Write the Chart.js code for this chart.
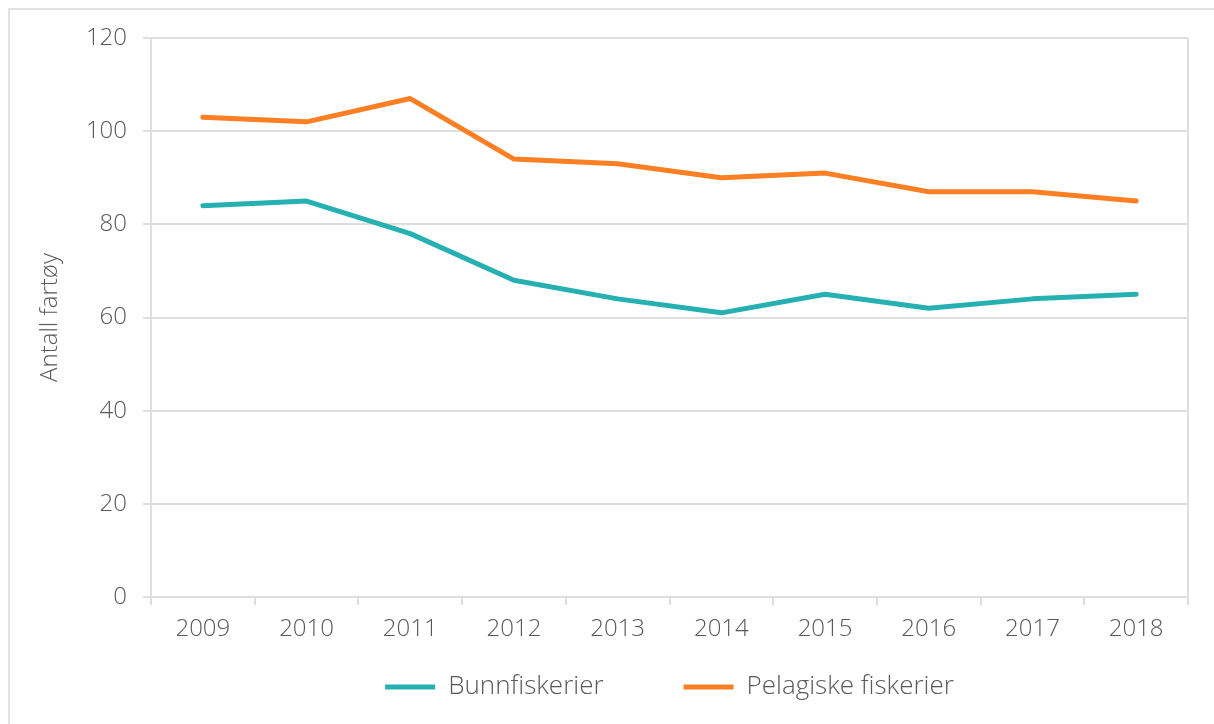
<!DOCTYPE html>
<html>
<head>
<meta charset="utf-8">
<script src="https://cdn.jsdelivr.net/npm/chart.js@4.4.1/dist/chart.umd.min.js"></script>
<style>
  html, body { margin: 0; padding: 0; background: #fff; overflow: hidden; }
  .frame {
    position: absolute; left: 8px; top: 8px; width: 1300px; height: 800px;
    border: 2px solid #e3e3e3; box-sizing: border-box;
  }
  .wrap { position: absolute; left: 0; top: 0; width: 1214px; height: 724px; }
</style>
</head>
<body>
<div class="frame"></div>
<div class="wrap"><canvas id="chart"></canvas></div>
<script>
// Data
const years = ['2009', '2010', '2011', '2012', '2013', '2014', '2015', '2016', '2017', '2018'];
const bunnfiskerier = [84, 85, 78, 68, 64, 61, 65, 62, 64, 65];
const pelagiske = [103, 102, 107, 94, 93, 90, 91, 87, 87, 85];
const yTicks = [0, 20, 40, 60, 80, 100, 120];

const textColor = '#595959';
const gridColor = '#dedede';
const fontFamily = '"Open Sans", "Noto Sans", sans-serif';

const LEGEND_H = 70;     // height the legend takes in the layout
const LEGEND_VPAD = 22;  // space above the legend items
const PAD_LEFT = 36;

// Chart.js uses one padding value for both the gap between legend items and
// the space around them; keep the wide gap without the tall box.
const legendSpacing = {
  id: 'legendSpacing',
  beforeUpdate(chart) {
    const lg = chart.legend;
    if (!lg || lg.__patched) return;
    lg.__patched = true;
    const fit = lg.fit;
    lg.fit = function () {
      fit.call(this);
      this.height = LEGEND_H;
    };
    const draw = lg.draw;
    lg.draw = function () {
      const saved = [this.top, this.left, this.right];
      this.top = saved[0] - this.options.labels.padding + LEGEND_VPAD;
      this.left = chart.chartArea.left;
      this.right = chart.chartArea.right;
      draw.apply(this, arguments);
      [this.top, this.left, this.right] = saved;
    };
  }
};

new Chart(document.getElementById('chart').getContext('2d'), {
  type: 'line',
  data: {
    labels: years,
    datasets: [
      {
        label: 'Bunnfiskerier', data: bunnfiskerier,
        borderColor: '#26b0b2', backgroundColor: '#26b0b2',
        borderWidth: 5, borderCapStyle: 'round', borderJoinStyle: 'round',
        pointRadius: 0, pointStyle: 'line', tension: 0
      },
      {
        label: 'Pelagiske fiskerier', data: pelagiske,
        borderColor: '#fc7f24', backgroundColor: '#fc7f24',
        borderWidth: 5, borderCapStyle: 'round', borderJoinStyle: 'round',
        pointRadius: 0, pointStyle: 'line', tension: 0
      }
    ]
  },
  plugins: [legendSpacing],
  options: {
    responsive: true,
    maintainAspectRatio: false,
    animation: false,
    layout: { padding: { left: PAD_LEFT, right: 26, top: 38, bottom: 2 } },
    plugins: {
      tooltip: { enabled: false },
      legend: {
        position: 'bottom',
        labels: {
          usePointStyle: true,
          pointStyleWidth: 50,
          padding: 80,
          color: textColor,
          font: { family: fontFamily, size: 26, weight: 300 }
        }
      }
    },
    scales: {
      x: {
        offset: true,
        grid: {
          offset: true,
          drawOnChartArea: true,
          color: ctx => (ctx.type === 'scale' ? gridColor : 'transparent'),
          tickColor: gridColor,
          tickLength: 8,
          lineWidth: 2
        },
        border: { display: false },
        ticks: {
          color: textColor, padding: 10,
          font: { family: fontFamily, size: 24, weight: 300 }
        },
        afterFit: scale => { scale.height = 55; }
      },
      y: {
        min: 0, max: 120,
        afterBuildTicks: scale => { scale.ticks = yTicks.map(v => ({ value: v })); },
        grid: { color: gridColor, lineWidth: 2, tickLength: 8 },
        border: { display: true, color: gridColor, width: 2 },
        ticks: {
          color: textColor, padding: 16,
          font: { family: fontFamily, size: 24, weight: 300 }
        },
        title: {
          display: true, text: 'Antall fartøy', color: textColor,
          font: { family: fontFamily, size: 24, weight: 300 },
          padding: { top: 0, bottom: 0 }
        },
        afterFit: scale => { scale.width = 151 - PAD_LEFT; }
      }
    }
  }
});
</script>
</body>
</html>
